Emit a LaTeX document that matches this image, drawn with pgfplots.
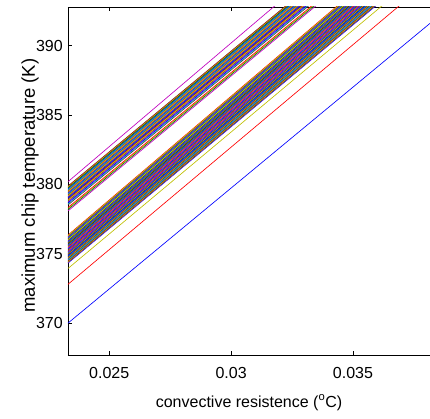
\documentclass[border=0pt]{standalone}
\usepackage{pgfplots}
\pgfplotsset{compat=1.18}
\usepackage{fontspec}
\setmainfont{Liberation Sans}
\definecolor{mb}{rgb}{0,0,1}
\definecolor{mg}{rgb}{0,0.5,0}
\definecolor{mr}{rgb}{1,0,0}
\definecolor{mc}{rgb}{0,0.75,0.75}
\definecolor{mm}{rgb}{0.75,0,0.75}
\definecolor{my}{rgb}{0.75,0.75,0}
\definecolor{mk}{rgb}{0.25,0.25,0.25}
\begin{document}
\begin{tikzpicture}
\begin{axis}[
  scale only axis, width=362pt, height=348pt,
  xmin=0.02331, xmax=0.03816, ymin=367.7, ymax=392.8,
  axis x line=box, axis y line=left, axis line style={-, line width=0.8pt, black},
  tick align=inside, major tick length=4pt, tick style={black, line width=0.7pt},
  xtick={0.025,0.03,0.035}, xticklabels={0.025,0.03,0.035}, scaled x ticks=false,
  ytick={370,375,380,385,390},
  /pgf/number format/assume math mode=true,
  tick label style={font=\fontsize{16}{19}\selectfont},
  xticklabel style={inner sep=0pt, anchor=north, yshift=-12pt},
  yticklabel style={inner sep=0pt, anchor=east, xshift=-5pt},
  xlabel={convective resistence (\textsuperscript{o}C)},
  ylabel={maximum chip temperature (K)},
  xlabel style={font=\fontsize{16}{19}\selectfont, inner sep=0pt, at={(axis description cs:0.5,0)}, anchor=base, yshift=-52pt},
  ylabel style={font=\fontsize{18.5}{22}\selectfont, inner sep=0pt, at={(axis description cs:-0.0912,0.487)}, anchor=base},
  no markers,
  every axis plot/.append style={line width=0.65pt},
]
\coordinate (bl) at (rel axis cs:0,0);
\coordinate (tr) at (rel axis cs:1,1);
\addplot[mb] coordinates {(0.02331,370.00) (0.03816,391.62)};
\addplot[mr] coordinates {(0.02331,376.35) (0.03816,398.57)};
\addplot[mr] coordinates {(0.02331,372.80) (0.03816,394.75)};
\addplot[mk] coordinates {(0.02331,379.89) (0.03816,401.49)};
\addplot[mg] coordinates {(0.02331,375.46) (0.03816,397.50)};
\addplot[my] coordinates {(0.02331,373.94) (0.03816,395.78)};
\addplot[mb] coordinates {(0.02331,374.60) (0.03816,396.47)};
\addplot[mg] coordinates {(0.02331,379.44) (0.03816,401.04)};
\addplot[my] coordinates {(0.02331,375.75) (0.03816,397.85)};
\addplot[mm] coordinates {(0.02331,374.91) (0.03816,396.85)};
\addplot[mc] coordinates {(0.02331,378.99) (0.03816,400.59)};
\addplot[mm] coordinates {(0.02331,380.20) (0.03816,402.40)};
\addplot[mr] coordinates {(0.02331,376.07) (0.03816,398.24)};
\addplot[my] coordinates {(0.02331,378.27) (0.03816,399.87)};
\addplot[mg] coordinates {(0.02331,375.20) (0.03816,397.19)};
\addplot[mb] coordinates {(0.02331,374.33) (0.03816,396.15)};
\addplot[mk] coordinates {(0.02331,379.58) (0.03816,401.18)};
\addplot[my] coordinates {(0.02331,375.49) (0.03816,397.54)};
\addplot[mm] coordinates {(0.02331,374.64) (0.03816,396.52)};
\addplot[mg] coordinates {(0.02331,379.13) (0.03816,400.73)};
\addplot[mr] coordinates {(0.02331,375.79) (0.03816,397.90)};
\addplot[mg] coordinates {(0.02331,374.94) (0.03816,396.88)};
\addplot[mc] coordinates {(0.02331,378.60) (0.03816,400.20)};
\addplot[mk] coordinates {(0.02331,376.10) (0.03816,398.27)};
\addplot[my] coordinates {(0.02331,375.24) (0.03816,397.24)};
\addplot[mm] coordinates {(0.02331,379.71) (0.03816,401.31)};
\addplot[mm] coordinates {(0.02331,374.36) (0.03816,396.19)};
\addplot[mr] coordinates {(0.02331,375.53) (0.03816,397.59)};
\addplot[mk] coordinates {(0.02331,379.26) (0.03816,400.86)};
\addplot[mg] coordinates {(0.02331,374.68) (0.03816,396.57)};
\addplot[mk] coordinates {(0.02331,375.83) (0.03816,397.95)};
\addplot[mg] coordinates {(0.02331,378.80) (0.03816,400.40)};
\addplot[my] coordinates {(0.02331,374.98) (0.03816,396.93)};
\addplot[mc] coordinates {(0.02331,376.14) (0.03816,398.32)};
\addplot[mr] coordinates {(0.02331,379.85) (0.03816,401.45)};
\addplot[mr] coordinates {(0.02331,375.27) (0.03816,397.28)};
\addplot[mg] coordinates {(0.02331,374.40) (0.03816,396.23)};
\addplot[mm] coordinates {(0.02331,379.40) (0.03816,401.00)};
\addplot[mk] coordinates {(0.02331,375.57) (0.03816,397.64)};
\addplot[my] coordinates {(0.02331,374.72) (0.03816,396.62)};
\addplot[mk] coordinates {(0.02331,378.95) (0.03816,400.55)};
\addplot[mc] coordinates {(0.02331,375.86) (0.03816,397.98)};
\addplot[mr] coordinates {(0.02331,375.02) (0.03816,396.98)};
\addplot[mg] coordinates {(0.02331,378.19) (0.03816,399.79)};
\addplot[mb] coordinates {(0.02331,376.19) (0.03816,398.38)};
\addplot[mk] coordinates {(0.02331,375.31) (0.03816,397.32)};
\addplot[mr] coordinates {(0.02331,379.53) (0.03816,401.13)};
\addplot[my] coordinates {(0.02331,374.44) (0.03816,396.28)};
\addplot[mc] coordinates {(0.02331,375.60) (0.03816,397.67)};
\addplot[mm] coordinates {(0.02331,379.08) (0.03816,400.68)};
\addplot[mr] coordinates {(0.02331,374.76) (0.03816,396.67)};
\addplot[mb] coordinates {(0.02331,375.90) (0.03816,398.03)};
\addplot[mk] coordinates {(0.02331,378.52) (0.03816,400.12)};
\addplot[mk] coordinates {(0.02331,375.05) (0.03816,397.01)};
\addplot[mm] coordinates {(0.02331,376.22) (0.03816,398.41)};
\addplot[mb] coordinates {(0.02331,379.67) (0.03816,401.27)};
\addplot[mc] coordinates {(0.02331,375.35) (0.03816,397.37)};
\addplot[mr] coordinates {(0.02331,374.48) (0.03816,396.33)};
\addplot[mr] coordinates {(0.02331,379.22) (0.03816,400.82)};
\addplot[mb] coordinates {(0.02331,375.64) (0.03816,397.72)};
\addplot[mk] coordinates {(0.02331,374.80) (0.03816,396.71)};
\addplot[mm] coordinates {(0.02331,378.74) (0.03816,400.34)};
\addplot[mm] coordinates {(0.02331,375.95) (0.03816,398.09)};
\addplot[mc] coordinates {(0.02331,375.09) (0.03816,397.06)};
\addplot[my] coordinates {(0.02331,379.80) (0.03816,401.40)};
\addplot[mg] coordinates {(0.02331,376.27) (0.03816,398.47)};
\addplot[mb] coordinates {(0.02331,375.38) (0.03816,397.41)};
\addplot[mb] coordinates {(0.02331,379.35) (0.03816,400.95)};
\addplot[mk] coordinates {(0.02331,374.52) (0.03816,396.38)};
\addplot[mm] coordinates {(0.02331,375.68) (0.03816,397.77)};
\addplot[mr] coordinates {(0.02331,378.90) (0.03816,400.50)};
\addplot[mc] coordinates {(0.02331,374.83) (0.03816,396.75)};
\addplot[mg] coordinates {(0.02331,375.98) (0.03816,398.13)};
\addplot[mm] coordinates {(0.02331,378.09) (0.03816,399.69)};
\addplot[mb] coordinates {(0.02331,375.13) (0.03816,397.11)};
\addplot[my] coordinates {(0.02331,376.30) (0.03816,398.51)};
\addplot[my] coordinates {(0.02331,379.49) (0.03816,401.09)};
\addplot[mm] coordinates {(0.02331,375.42) (0.03816,397.46)};
\addplot[mc] coordinates {(0.02331,374.56) (0.03816,396.43)};
\addplot[mb] coordinates {(0.02331,379.04) (0.03816,400.64)};
\addplot[mg] coordinates {(0.02331,375.71) (0.03816,397.80)};
\addplot[mb] coordinates {(0.02331,374.87) (0.03816,396.80)};
\addplot[mr] coordinates {(0.02331,378.34) (0.03816,399.94)};
\addplot[my] coordinates {(0.02331,376.02) (0.03816,398.18)};
\addplot[mm] coordinates {(0.02331,375.16) (0.03816,397.14)};
\addplot[mc] coordinates {(0.02331,379.62) (0.03816,401.22)};
\addplot[my] coordinates {(0.02331,379.17) (0.03816,400.77)};
\addplot[mb] coordinates {(0.02331,378.67) (0.03816,400.27)};
\addplot[mg] coordinates {(0.02331,379.76) (0.03816,401.36)};
\addplot[mc] coordinates {(0.02331,379.31) (0.03816,400.91)};
\addplot[my] coordinates {(0.02331,378.85) (0.03816,400.45)};
\end{axis}
\pgfresetboundingbox
\path[use as bounding box] ([xshift=-68pt,yshift=-63pt]bl) rectangle ([yshift=7pt]tr);
\end{tikzpicture}
\end{document}
